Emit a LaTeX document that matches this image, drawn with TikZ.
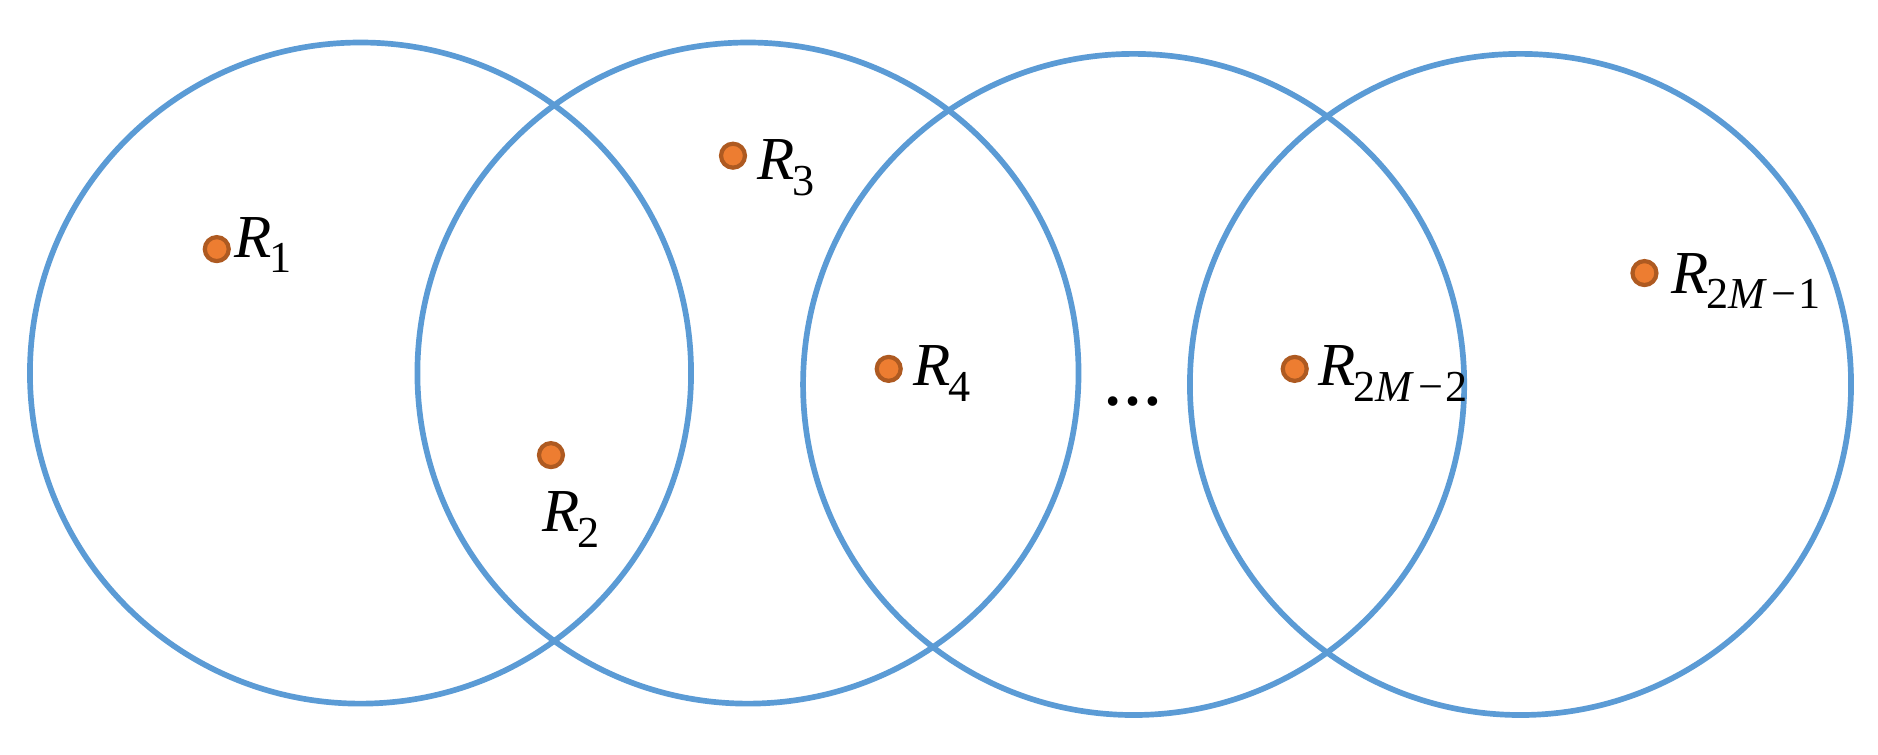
\documentclass[tikz,border=0pt]{standalone}
\usepackage{fontspec}
\setmainfont{Liberation Serif}
\definecolor{ringblue}{HTML}{5B9BD5}
\definecolor{dotfill}{HTML}{ED7D31}
\definecolor{dotedge}{HTML}{AE5A21}
\newcommand\rlab[1]{\textit{R}\kern-0.04em\raisebox{-0.55ex}{\fontsize{10.5}{11}\selectfont #1}}
\begin{document}
\begin{tikzpicture}[x=1cm,y=1cm,
  ring/.style={draw=ringblue, line width=1.35pt},
  pt/.style={circle, fill=dotfill, draw=dotedge, line width=1pt, inner sep=0pt, minimum size=0.2cm},
  lbl/.style={anchor=base west, inner sep=0pt, font=\fontsize{14.5}{15}\selectfont}]
\useasboundingbox (0,0) rectangle (15.68,6.30);
\draw[ring] (3.01,3.185) circle (2.76);
\draw[ring] (6.245,3.185) circle (2.76);
\draw[ring] (9.465,3.09) circle (2.76);
\draw[ring] (12.695,3.09) circle (2.76);
\node[pt] (r1) at (1.81,4.22) {};
\node[pt] (r2) at (4.60,2.50) {};
\node[pt] (r3) at (6.12,5.00) {};
\node[pt] (r4) at (7.42,3.22) {};
\node[pt] (r5) at (10.81,3.22) {};
\node[pt] (r6) at (13.73,4.02) {};
\node[lbl] (l1) at (1.95,4.15) {\rlab{1}};
\node[lbl] (l2) at (4.52,1.86) {\rlab{2}};
\node[lbl] (l3) at (6.32,4.80) {\rlab{3}};
\node[lbl] (l4) at (7.62,3.08) {\rlab{4}};
\node[lbl] (l5) at (11.00,3.08) {\rlab{2\textit{M}\kern0.1em−\kern0.05em2}};
\node[lbl] (l6) at (13.95,3.85) {\rlab{2\textit{M}\kern0.1em−\kern0.05em1}};
\node[inner sep=0pt, font=\fontsize{14}{14}\selectfont\bfseries] (dots) at (9.46,2.95) {…};
\end{tikzpicture}
\end{document}
